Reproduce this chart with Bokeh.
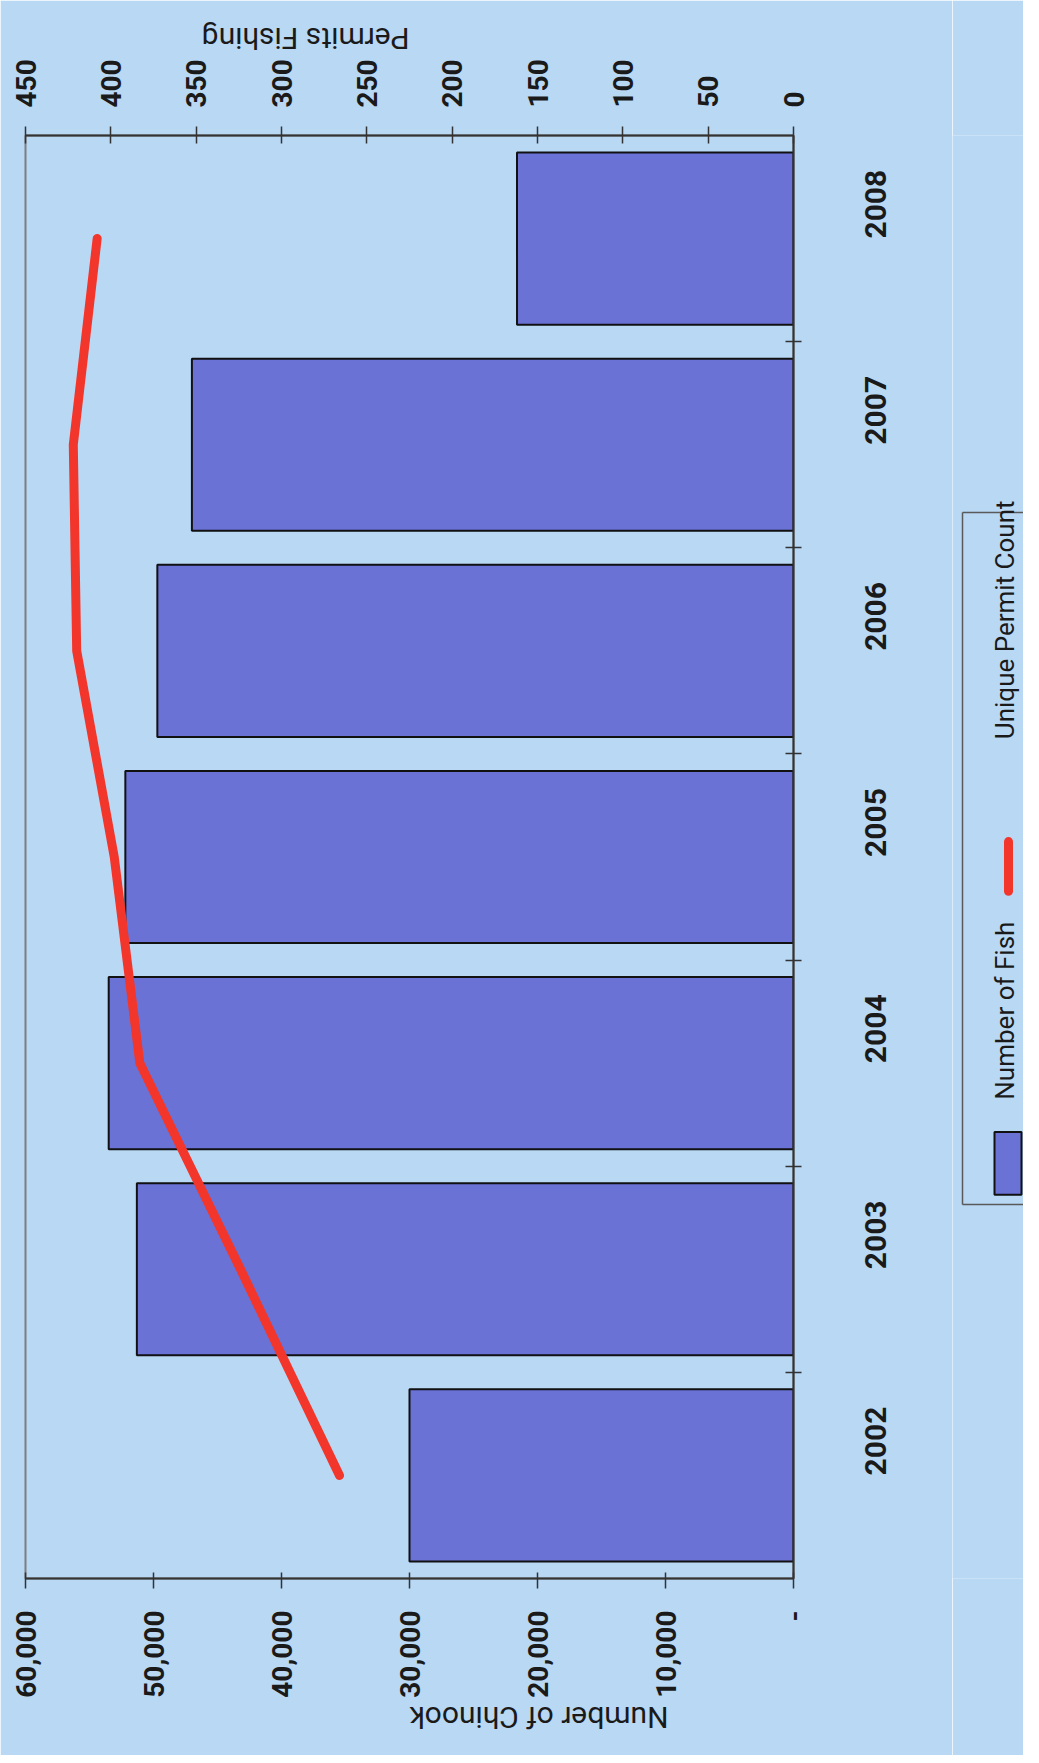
import math
from bokeh.plotting import figure
from bokeh.models import (Range1d, FactorRange, LinearAxis, CategoricalAxis,
                          FixedTicker, NumeralTickFormatter, CustomJSTickFormatter)
from bokeh.layouts import row
from bokeh.embed import file_html
from bokeh.resources import INLINE
from bokeh.core.properties import value

# ---- data ----
years = ["2002", "2003", "2004", "2005", "2006", "2007", "2008"]
fish = [30000, 51300, 53500, 52200, 49700, 47000, 21600]
permits = [266, 324, 383, 398, 420, 422, 408]
fish_ticks = [0, 10000, 20000, 30000, 40000, 50000, 60000]
permit_ticks = [0, 50, 100, 150, 200, 250, 300, 350, 400, 450]
fish_title = "Number of Chinook"
permit_title = "Permits Fishing"
series_names = ["Number of Fish", "Unique Permit Count"]

BG = "#b9d8f4"
BAR = "#6a72d6"
RED = "#f2362b"
AX = "#333333"
FONT = "Roboto"

W, H = 952, 1755
BL, BR, BT, BB = 25, 159, 130, 174

p = figure(width=W, height=H,
           x_range=Range1d(max(fish_ticks), 0),
           y_range=FactorRange(factors=years, range_padding=0),
           x_axis_location=None, y_axis_location=None,
           output_backend="svg", toolbar_location=None,
           min_border_left=BL, min_border_right=BR,
           min_border_top=BT, min_border_bottom=BB)
p.extra_x_ranges = {"permits": Range1d(max(permit_ticks), 0)}
# boundary slots between the year categories (tick marks between bars)
bounds = ["b%d" % i for i in range(len(years) + 1)]
p.extra_y_ranges = {"slots": FactorRange(factors=bounds, range_padding=-0.5,
                                         range_padding_units="absolute")}
p.background_fill_color = BG
p.border_fill_color = BG
p.outline_line_color = "#7d7d7d"
p.outline_line_width = 2
p.grid.visible = False


def style_axis(ax, tick_in, tick_out, standoff):
    ax.axis_line_color = AX
    ax.axis_line_width = 2
    ax.major_tick_line_color = AX
    ax.major_tick_line_width = 1.5
    ax.major_tick_in = tick_in
    ax.major_tick_out = tick_out
    ax.minor_tick_line_color = None
    ax.major_label_standoff = standoff
    ax.major_label_text_font = FONT
    ax.major_label_text_font_style = "bold"
    ax.major_label_text_font_size = "28px"
    ax.major_label_text_color = "#1a1a1a"
    ax.axis_label_text_font = FONT
    ax.axis_label_text_font_style = "normal"
    ax.axis_label_text_font_size = "30px"
    ax.axis_label_text_color = "#1a1a1a"


bottom = LinearAxis(ticker=FixedTicker(ticks=fish_ticks),
                    formatter=NumeralTickFormatter(format="0,0"),
                    axis_label=fish_title,
                    major_label_overrides={0: "-"},
                    major_label_orientation=math.pi / 2,
                    axis_label_orientation=math.pi)
style_axis(bottom, 6, 10, 22)
bottom.axis_label_standoff = 17
p.add_layout(bottom, "below")

top = LinearAxis(x_range_name="permits",
                 ticker=FixedTicker(ticks=permit_ticks),
                 axis_label=permit_title,
                 major_label_orientation=math.pi / 2,
                 axis_label_orientation=math.pi)
style_axis(top, 8, 9, 19)
top.axis_label_standoff = 18
p.add_layout(top, "above")

slot_axis = CategoricalAxis(y_range_name="slots",
                            formatter=CustomJSTickFormatter(code="return ''"))
style_axis(slot_axis, 8, 8, 0)
p.add_layout(slot_axis, "right")

cat_axis = CategoricalAxis(major_label_orientation=math.pi / 2)
style_axis(cat_axis, 0, 0, 74)
cat_axis.major_label_text_font_size = "30px"
cat_axis.axis_line_color = None
cat_axis.major_tick_line_color = None
p.add_layout(cat_axis, "right")

p.hbar(y=years, left=0, right=fish, height=0.835,
       fill_color=BAR, line_color="#111111", line_width=2)
p.line(x=permits, y=years, x_range_name="permits",
       line_color=RED, line_width=9, line_cap="round", line_join="round")

# ---- legend panel (rotated like the chart); ranges in page pixels ----
FT, FB = 8 + BT, 8 + H - BB
lg = figure(width=71, height=H, x_range=Range1d(960, 1031), y_range=Range1d(FB, FT),
            x_axis_location=None, y_axis_location=None,
            output_backend="svg", toolbar_location=None,
            min_border_left=0, min_border_right=0,
            min_border_top=BT, min_border_bottom=BB)
lg.background_fill_color = BG
lg.border_fill_color = BG
lg.outline_line_color = None
lg.grid.visible = False
lg.segment(x0=[970, 970, 970], y0=[517, 517, 1213], x1=[1031, 970, 1031], y1=[517, 1213, 1213],
           line_color="#5a5a5a", line_width=1.5)
lg.text(x=[1012, 1012], y=[625, 1018], text=[series_names[1], series_names[0]],
        angle=math.pi / 2, text_align="center", text_baseline="middle",
        text_font=value(FONT), text_font_size="26px", text_color="#1a1a1a")
lg.segment(x0=[1016], y0=[848], x1=[1016], y1=[898], line_color=RED, line_width=9,
           line_cap="round")
lg.quad(left=[1002], right=[1029], top=[1140], bottom=[1203],
        fill_color=BAR, line_color="#111111", line_width=2)

layout = row(p, lg)
open("out.html", "w").write(file_html(layout, INLINE))
